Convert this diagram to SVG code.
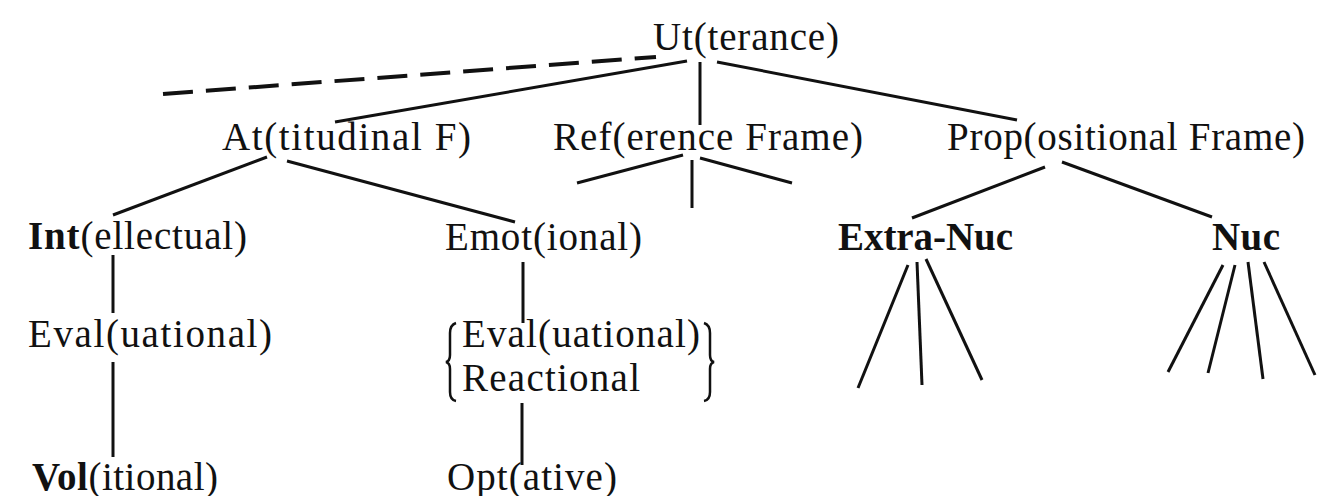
<svg xmlns="http://www.w3.org/2000/svg" width="1319" height="496" viewBox="0 0 1319 496">
<style>
text{font-family:"Liberation Serif","Times New Roman",serif;font-size:39px;fill:#111}
.b{font-weight:bold}
.c line{stroke:#111;stroke-width:3;stroke-linecap:butt}
.c .d{stroke-width:4;stroke-dasharray:30 13}
.br{fill:none;stroke:#111;stroke-width:2.5}
</style>
<rect width="1319" height="496" fill="#fff"/>
<g id="connectors" class="c">
<line class="d" x1="163" y1="94" x2="656" y2="57"/>
<line x1="687" y1="61" x2="335" y2="122"/>
<line x1="700" y1="62" x2="700" y2="125"/>
<line x1="717" y1="62" x2="1017" y2="120"/>
<line x1="267" y1="157" x2="113" y2="215"/>
<line x1="287" y1="161" x2="515" y2="222"/>
<line x1="683" y1="155" x2="577" y2="183"/>
<line x1="692" y1="160" x2="692" y2="208"/>
<line x1="700" y1="158" x2="792" y2="183"/>
<line x1="1045" y1="167" x2="912" y2="218"/>
<line x1="1062" y1="162" x2="1212" y2="217"/>
<line x1="113" y1="255" x2="113" y2="313"/>
<line x1="113" y1="362" x2="113" y2="457"/>
<line x1="523" y1="262" x2="523" y2="323"/>
<line x1="522" y1="403" x2="522" y2="465"/>
<line x1="908" y1="265" x2="858" y2="388"/>
<line x1="917" y1="262" x2="922" y2="385"/>
<line x1="926" y1="259" x2="982" y2="380"/>
<line x1="1223" y1="265" x2="1168" y2="372"/>
<line x1="1235" y1="265" x2="1208" y2="373"/>
<line x1="1248" y1="262" x2="1263" y2="379"/>
<line x1="1264" y1="262" x2="1315" y2="375"/>
</g>
<g id="utterance"><text x="653" y="50" textLength="186" lengthAdjust="spacing">Ut(terance)</text></g>
<g id="attitudinal"><text x="222" y="150" textLength="249" lengthAdjust="spacing">At(titudinal F)</text></g>
<g id="reference"><text x="553" y="150" textLength="310" lengthAdjust="spacing">Ref(erence Frame)</text></g>
<g id="propositional"><text x="947" y="150" textLength="358" lengthAdjust="spacing">Prop(ositional Frame)</text></g>
<g id="intellectual"><text x="28" y="249" textLength="219" lengthAdjust="spacing"><tspan class="b">Int</tspan>(ellectual)</text></g>
<g id="emotional"><text x="445" y="250" textLength="197" lengthAdjust="spacing">Emot(ional)</text></g>
<g id="extra-nuc"><text class="b" x="838" y="250" textLength="175" lengthAdjust="spacing">Extra-Nuc</text></g>
<g id="nuc"><text class="b" x="1212" y="250" textLength="68" lengthAdjust="spacing">Nuc</text></g>
<g id="evaluational-1"><text x="28" y="347" textLength="244" lengthAdjust="spacing">Eval(uational)</text></g>
<g id="evaluational-reactional">
<path class="br" d="M456,323 Q450,325 450,333 L450,355 Q450,361 446,362 Q450,363 450,369 L450,392 Q450,400 456,401"/>
<text x="462" y="347" textLength="238" lengthAdjust="spacing">Eval(uational)</text>
<text x="462" y="391" textLength="178" lengthAdjust="spacing">Reactional</text>
<path class="br" d="M704,323 Q710,325 710,333 L710,355 Q710,361 714,362 Q710,363 710,369 L710,392 Q710,400 704,401"/>
</g>
<g id="volitional"><text x="32" y="490" textLength="186" lengthAdjust="spacing"><tspan class="b">Vol</tspan>(itional)</text></g>
<g id="optative"><text x="447" y="490" textLength="170" lengthAdjust="spacing">Opt(ative)</text></g>
</svg>
